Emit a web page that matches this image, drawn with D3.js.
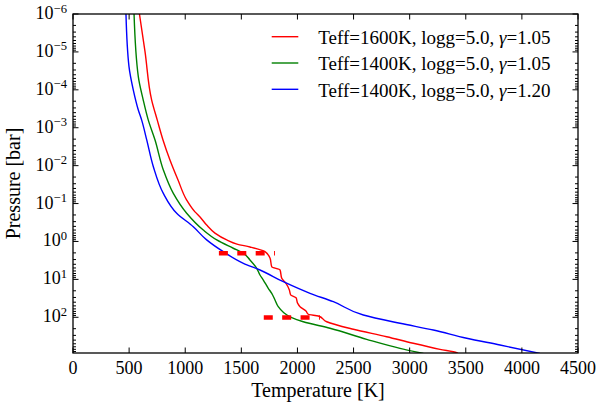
<!DOCTYPE html>
<html>
<head>
<meta charset="utf-8">
<script src="https://cdnjs.cloudflare.com/ajax/libs/d3/7.8.5/d3.min.js"></script>
<style>
  body { margin: 0; background: #fff; }
  text { font-family: "Liberation Serif", "DejaVu Serif", serif; fill: #000; }
</style>
</head>
<body>
<div id="chart"></div>
<script>
var redT = [592, 642, 701, 751, 802, 864, 936, 1013, 1087, 1132, 1191, 1265, 1370, 1461, 1577, 1711, 1756, 1771, 1845, 1860, 1898, 1928, 1940, 1987, 2002, 2023, 2076, 2097, 2186, 2261, 2498, 2795, 3032, 3270, 3419, 3431];
var redP = [1e-6, 1e-5, 1.86e-4, 6.3e-4, 2.1e-3, 7.1e-3, 2.4e-2, 8.1e-2, 0.166, 0.226, 0.37, 0.60, 0.91, 1.17, 1.40, 1.86, 2.78, 4.63, 5.66, 9.4, 12.7, 19.1, 25.8, 30.4, 42.8, 52.6, 68.2, 83.4, 92.5, 131, 207, 325, 485, 700, 859, 900];

var greenT = [544, 582, 626, 671, 731, 805, 894, 1013, 1161, 1281, 1428, 1518, 1577, 1637, 1666, 1696, 1740, 1771, 1800, 1829, 1874, 1949, 2052, 2290, 2617, 2914, 3122];
var greenP = [1e-6, 4.5e-5, 1.86e-4, 6.3e-4, 2.1e-3, 1.3e-2, 5.4e-2, 0.18, 0.50, 0.91, 1.51, 2.04, 3.08, 5.1, 7.67, 10.4, 17.2, 23.3, 35, 52.6, 74, 102.6, 131, 195, 381, 658, 900];

var blueT = [472, 499, 537, 582, 612, 657, 716, 805, 924, 1072, 1191, 1339, 1518, 1666, 1874, 2112, 2320, 2587, 2914, 3211, 3508, 3805, 4161];
var blueP = [1e-6, 2.45e-5, 1e-4, 3.4e-4, 6.3e-4, 2.1e-3, 1.07e-2, 5.4e-2, 0.18, 0.41, 0.91, 1.86, 3.77, 5.66, 11.5, 23.3, 38.8, 87, 144, 217, 358, 538, 900];

// thick dashed markers
var dashT = [[1300, 1800], [1700, 2200]];
var dashP = [2.05, 102];

var seriesNames = ["Teff=1600K, logg=5.0, ", "Teff=1400K, logg=5.0, ", "Teff=1400K, logg=5.0, "];
var seriesGamma = ["1.05", "1.05", "1.20"];
var seriesColors = ["#ff0000", "#008000", "#0000ff"];

var xTicks = [0, 500, 1000, 1500, 2000, 2500, 3000, 3500, 4000, 4500];
var yExps = [-6, -5, -4, -3, -2, -1, 0, 1, 2];
var pMin = 1e-6, pMax = 875;

var W = 597, H = 404;
var xLeft = 73, xRight = 578, yTop = 14, yBottom = 353;

var svg = d3.select("#chart").append("svg")
  .attr("width", W).attr("height", H);

var x = d3.scaleLinear().domain([0, 4500]).range([xLeft, xRight]);
var y = d3.scaleLog().domain([pMin, pMax]).range([yTop, yBottom]);

svg.append("clipPath").attr("id", "clip")
  .append("rect").attr("x", xLeft).attr("y", yTop)
  .attr("width", xRight - xLeft).attr("height", yBottom - yTop);

var plot = svg.append("g").attr("clip-path", "url(#clip)");

var line = d3.line()
  .curve(d3.curveMonotoneY)
  .x(function (d) { return x(d[0]); })
  .y(function (d) { return y(d[1]); });

var allT = [redT, greenT, blueT], allP = [redP, greenP, blueP];
for (var s = 0; s < 3; s++) {
  var pts = d3.zip(allT[s], allP[s]);
  plot.append("path")
    .attr("d", line(pts))
    .attr("fill", "none")
    .attr("stroke", seriesColors[s])
    .attr("stroke-width", 1.4)
    .attr("stroke-linejoin", "round");
}

for (var k = 0; k < dashT.length; k++) {
  plot.append("line")
    .attr("x1", x(dashT[k][0])).attr("x2", x(dashT[k][1]))
    .attr("y1", y(dashP[k])).attr("y2", y(dashP[k]))
    .attr("stroke", "#ff0000")
    .attr("stroke-width", 4.5)
    .attr("stroke-dasharray", "9,9.4");
}

// ticks, inside on all four sides
var tk = svg.append("g").attr("stroke", "#000").attr("stroke-width", 1);
xTicks.forEach(function (t) {
  tk.append("line").attr("x1", x(t)).attr("x2", x(t)).attr("y1", yBottom).attr("y2", yBottom - 5.5);
  tk.append("line").attr("x1", x(t)).attr("x2", x(t)).attr("y1", yTop).attr("y2", yTop + 5.5);
});
var dMinor = [];
for (var e = -6; e <= 2; e++) {
  for (var m = 2; m <= 9; m++) {
    var v = m * Math.pow(10, e);
    if (v <= pMax) dMinor.push(v);
  }
}
yExps.forEach(function (e) {
  var yy = y(Math.pow(10, e));
  tk.append("line").attr("x1", xLeft).attr("x2", xLeft + 5.5).attr("y1", yy).attr("y2", yy);
  tk.append("line").attr("x1", xRight).attr("x2", xRight - 5.5).attr("y1", yy).attr("y2", yy);
});
dMinor.forEach(function (v) {
  var yy = y(v);
  tk.append("line").attr("x1", xLeft).attr("x2", xLeft + 3).attr("y1", yy).attr("y2", yy);
  tk.append("line").attr("x1", xRight).attr("x2", xRight - 3).attr("y1", yy).attr("y2", yy);
});

svg.append("rect")
  .attr("x", xLeft).attr("y", yTop)
  .attr("width", xRight - xLeft).attr("height", yBottom - yTop)
  .attr("fill", "none").attr("stroke", "#000").attr("stroke-width", 1.3);

// tick labels
xTicks.forEach(function (t) {
  svg.append("text")
    .attr("x", x(t)).attr("y", yBottom + 20.5)
    .attr("text-anchor", "middle")
    .style("font-size", "18px")
    .text(t);
});
yExps.forEach(function (e) {
  var lab = svg.append("text")
    .attr("x", xLeft - 6).attr("y", y(Math.pow(10, e)) + 5)
    .attr("text-anchor", "end")
    .style("font-size", "18px");
  lab.append("tspan").text("10");
  lab.append("tspan")
    .attr("dy", -6.5)
    .style("font-size", "12.6px")
    .text(e < 0 ? "\u2212" + (-e) : e);
});

svg.append("text")
  .attr("x", 318).attr("y", 397)
  .attr("text-anchor", "middle")
  .style("font-size", "20px")
  .text("Temperature [K]");
svg.append("text")
  .attr("transform", "translate(20," + ((yTop + yBottom) / 2) + ") rotate(-90)")
  .attr("text-anchor", "middle")
  .style("font-size", "20px")
  .text("Pressure [bar]");

// legend, no frame
for (var i = 0; i < 3; i++) {
  var ly = 36.7 + i * 26.3;
  svg.append("line")
    .attr("x1", 271.7).attr("x2", 298.3)
    .attr("y1", ly).attr("y2", ly)
    .attr("stroke", seriesColors[i]).attr("stroke-width", 1.4);
  var lt = svg.append("text")
    .attr("x", 318.3).attr("y", ly + 7.3)
    .style("font-size", "19px");
  lt.append("tspan").text(seriesNames[i]);
  lt.append("tspan").style("font-style", "italic").text("\u03b3");
  lt.append("tspan").text("=" + seriesGamma[i]);
}
</script>
</body>
</html>
